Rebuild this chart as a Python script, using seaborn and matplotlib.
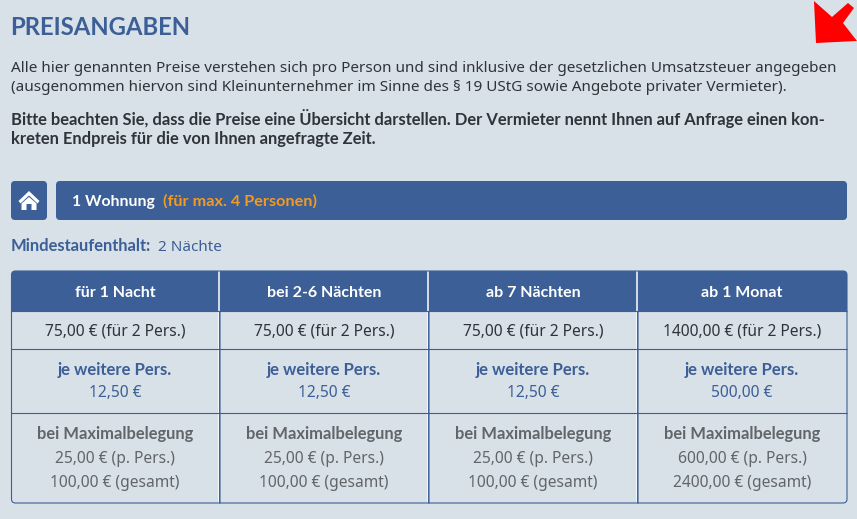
import matplotlib
matplotlib.use('Agg')
import matplotlib.pyplot as plt
import seaborn as sns
from matplotlib.patches import FancyBboxPatch, Polygon, Rectangle

# Texte
title = 'PREISANGABEN'
intro_lines = [
    'Alle hier genannten Preise verstehen sich pro Person und sind inklusive der gesetzlichen Umsatzsteuer angegeben',
    '(ausgenommen hiervon sind Kleinunternehmer im Sinne des § 19 UStG sowie Angebote privater Vermieter).',
]
note_lines = [
    'Bitte beachten Sie, dass die Preise eine Übersicht darstellen. Der Vermieter nennt Ihnen auf Anfrage einen kon-',
    'kreten Endpreis für die von Ihnen angefragte Zeit.',
]
banner_name = '1 Wohnung'
banner_note = '(für max. 4 Personen)'
stay_label = 'Mindestaufenthalt:'
stay_value = '2 Nächte'

# Tabelle
periods = ['für 1 Nacht', 'bei 2-6 Nächten', 'ab 7 Nächten', 'ab 1 Monat']
base_prices = ['75,00 € (für 2 Pers.)', '75,00 € (für 2 Pers.)', '75,00 € (für 2 Pers.)', '1400,00 € (für 2 Pers.)']
extra_label = 'je weitere Pers.'
extra_prices = ['12,50 €', '12,50 €', '12,50 €', '500,00 €']
max_label = 'bei Maximalbelegung'
max_per_person = ['25,00 € (p. Pers.)', '25,00 € (p. Pers.)', '25,00 € (p. Pers.)', '600,00 € (p. Pers.)']
max_total = ['100,00 € (gesamt)', '100,00 € (gesamt)', '100,00 € (gesamt)', '2400,00 € (gesamt)']

BG = '#d8e0e8'
BLUE = '#3b5f96'
DARK = '#2f343a'
GREY = '#62666a'
ORANGE = '#f39a1f'

sns.set_theme(style='white')
plt.rcParams['font.family'] = ['Noto Sans', 'DejaVu Sans']

fig = plt.figure(figsize=(8.57, 5.19), dpi=100, facecolor=BG)
ax = fig.add_axes([0, 0, 1, 1])
ax.set_xlim(0, 857)
ax.set_ylim(519, 0)
ax.set_facecolor(BG)
ax.axis('off')
sns.despine(ax=ax, left=True, bottom=True)


def rounded(x0, y0, x1, y1, r=4, **kw):
    p = FancyBboxPatch((x0 + r, y0 + r), x1 - x0 - 2 * r, y1 - y0 - 2 * r,
                       boxstyle=f'round,pad={r},rounding_size={r}', **kw)
    ax.add_patch(p)
    return p


def label(x, y, s, size=11.2, color=DARK, bold=False, ha='left'):
    if bold:
        ax.text(x, y, s, fontsize=size, color=color, ha=ha, va='baseline',
                family=['Lato', 'DejaVu Sans'], fontweight='bold')
    else:
        ax.text(x, y, s, fontsize=size, color=color, ha=ha, va='baseline')


# Kopf
label(10, 35, title, size=17.2, color=BLUE, bold=True)
label(11, 72, intro_lines[0], size=11.03)
label(11, 91, intro_lines[1], size=11.03)
label(11, 125, note_lines[0], size=11.9, bold=True)
label(11, 144, note_lines[1], size=11.9, bold=True)

# roter Pfeil
ax.add_patch(Polygon([(814, 1), (816, 43), (857, 41), (843, 23), (854, 8), (848, 3), (832, 17)],
                     closed=True, fc='#ff0000', ec='none'))

# Home-Button
rounded(11, 181, 47, 220, fc=BLUE, ec='none')
ax.add_patch(Polygon([(29, 191), (18.5, 201), (20.5, 203.5), (29, 195.5), (37.5, 203.5), (39.5, 201)],
                     closed=True, fc='white', ec='none'))
ax.add_patch(Polygon([(21.5, 203.5), (29, 197), (36.5, 203.5), (36.5, 210), (31.5, 210), (31.5, 204),
                      (26.5, 204), (26.5, 210), (21.5, 210)], closed=True, fc='white', ec='none'))

# Banner
rounded(56, 181, 847, 220, fc=BLUE, ec='none')
label(72, 206, banner_name, size=11.3, color='white', bold=True)
label(163, 206, banner_note, size=11.7, color=ORANGE, bold=True)

label(11, 251, stay_label, size=11.9, color=BLUE, bold=True)
label(158, 251, stay_value, size=11, color=BLUE)

# Tabelle
left, right, top, bottom = 11.5, 847, 271, 503
col_edges = [219.5, 428.5, 637.5]
col_centers = [115, 324, 533, 742]
row_edges = [349, 413]
outline = rounded(left, top, right, bottom, fc='none', ec=BLUE, lw=0.8, zorder=3)
head = Rectangle((left, top), right - left, 40, fc=BLUE, ec='none', zorder=1)
ax.add_patch(head)
head.set_clip_path(outline)
for y in [311] + row_edges:
    ax.plot([left, right], [y, y], color=BLUE, lw=0.8, zorder=2, solid_capstyle='butt')
for x in col_edges:
    ax.plot([x, x], [top, bottom], color='white', lw=1.1, zorder=1.5, solid_capstyle='butt')
    ax.plot([x + 0.8, x + 0.8], [311, bottom], color=BLUE, lw=0.4, zorder=2, solid_capstyle='butt')
    ax.plot([x - 0.6, x - 0.6], [311, bottom], color=BLUE, lw=0.7, zorder=2, solid_capstyle='butt')

for i, cx in enumerate(col_centers):
    label(cx, 297, periods[i], size=11.5, color='white', bold=True, ha='center')
    label(cx, 336, base_prices[i], ha='center')
    label(cx, 375, extra_label, size=12, color=BLUE, bold=True, ha='center')
    label(cx, 397, extra_prices[i], color=BLUE, ha='center')
    label(cx, 439, max_label, size=11.9, color=GREY, bold=True, ha='center')
    label(cx, 463, max_per_person[i], color=GREY, ha='center')
    label(cx, 487, max_total[i], color=GREY, ha='center')

fig.savefig('out.png', dpi=100, facecolor=BG)
